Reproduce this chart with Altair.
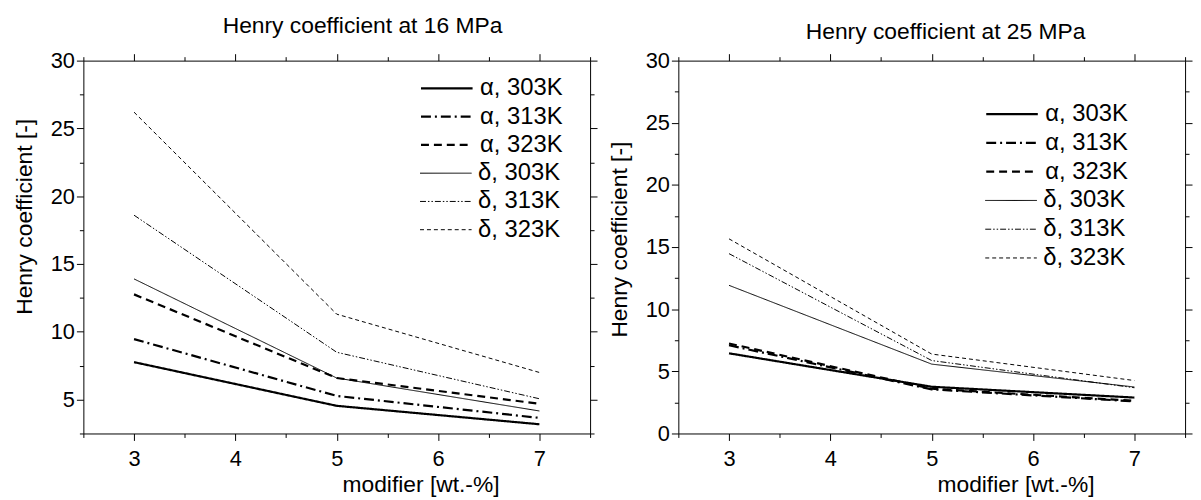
import altair as alt
import pandas as pd

FONT = "Liberation Sans"

# ---- data ----
modifier = [3, 5, 7]
series = ["α, 303K", "α, 313K", "α, 323K", "δ, 303K", "δ, 313K", "δ, 323K"]
groups = ["α", "α", "α", "δ", "δ", "δ"]

# 16 MPa
p16_a303 = [7.76, 4.54, 3.18]
p16_a313 = [9.46, 5.27, 3.65]
p16_a323 = [12.76, 6.59, 4.69]
p16_d303 = [13.9, 6.59, 4.16]
p16_d313 = [18.6, 8.49, 5.06]
p16_d323 = [26.2, 11.3, 7.0]

# 25 MPa
p25_a303 = [6.45, 3.76, 2.89]
p25_a313 = [7.10, 3.55, 2.58]
p25_a323 = [7.24, 3.60, 2.63]
p25_d303 = [11.92, 5.58, 3.74]
p25_d313 = [14.47, 5.87, 3.68]
p25_d323 = [15.66, 6.39, 4.26]

x_major = [3, 4, 5, 6, 7]
x_minor = [2.5, 3.5, 4.5, 5.5, 6.5, 7.5]
y16_major = [5, 10, 15, 20, 25, 30]
y16_minor = [2.5, 7.5, 12.5, 17.5, 22.5, 27.5]
y25_major = [0, 5, 10, 15, 20, 25, 30]
y25_minor = [2.5, 7.5, 12.5, 17.5, 22.5, 27.5]

dashes = [[1, 0], [10, 4, 2, 4], [8, 5], [1, 0], [6, 2, 1.5, 2, 1.5, 2], [4, 3]]


def build(vals):
    rows = []
    for s, g, v in zip(series, groups, vals):
        for x, y in zip(modifier, v):
            rows.append({"x": x, "v": y, "s": s, "g": g})
    return pd.DataFrame(rows)


df16 = build([p16_a303, p16_a313, p16_a323, p16_d303, p16_d313, p16_d323])
df25 = build([p25_a303, p25_a313, p25_a323, p25_d303, p25_d313, p25_d323])

axis_common = dict(
    grid=False, domainColor="black", tickColor="black", labelColor="black",
    titleColor="black", labelFont=FONT, titleFont=FONT, labelFontSize=22,
    titleFontSize=23, titleFontWeight="normal", domainWidth=1, tickWidth=1,
)

LFS = 24


def legend(lx, ly, sw, row):
    return alt.Legend(
        title=None, orient="none", legendX=lx, legendY=ly,
        symbolType="stroke", symbolSize=2704, symbolStrokeColor="black",
        symbolStrokeWidth=sw, labelFont=FONT, labelFontSize=LFS, labelColor="black",
        labelOffset=6, clipHeight=LFS, rowPadding=row - LFS, padding=0)


def panel(df, ydom, ymaj, ymin, title, tdx, tdy, lx, ly, row, ytitle_y):
    xs = alt.Scale(domain=[2.5, 7.5], nice=False, zero=False)
    ys = alt.Scale(domain=ydom, nice=False, zero=False)
    base = alt.Chart(df)

    thick = base.transform_filter(alt.datum.g == "α").mark_line(
        color="black", clip=True, strokeWidth=2.2).encode(
        x=alt.X("x:Q", scale=xs, axis=alt.Axis(
            orient="bottom", values=x_major, title="modifier [wt.-%]", tickSize=7,
            labelPadding=8, titleX=340, titleY=52, titleAlign="center",
            titleBaseline="middle", **axis_common)),
        y=alt.Y("v:Q", scale=ys, axis=alt.Axis(
            orient="left", values=ymaj, title="Henry coefficient [-]", tickSize=7,
            labelPadding=2, titleX=-59, titleY=ytitle_y, titleAngle=270,
            titleAlign="center", titleBaseline="middle", **axis_common)),
        strokeDash=alt.StrokeDash("s:N", scale=alt.Scale(domain=series[:3], range=dashes[:3]),
                                  legend=legend(lx, ly, 2.2, row)),
        detail="s:N",
    )
    thin = base.transform_filter(alt.datum.g == "δ").mark_line(
        color="black", clip=True, strokeWidth=1.0).encode(
        x=alt.X("x:Q", scale=xs, axis=None),
        y=alt.Y("v:Q", scale=ys, axis=None),
        strokeDash=alt.StrokeDash("s:N", scale=alt.Scale(domain=series[3:], range=dashes[3:]),
                                  legend=legend(lx, ly + 3 * row, 1.0, row)),
        detail="s:N",
    )

    def ghost(xorient, xvals, xtick, yorient, yvals, ytick, domain):
        return base.mark_line(strokeOpacity=0).encode(
            x=alt.X("x:Q", scale=xs, axis=alt.Axis(
                orient=xorient, values=xvals, labels=False, title=None, tickSize=xtick,
                domain=domain, **axis_common)),
            y=alt.Y("v:Q", scale=ys, axis=alt.Axis(
                orient=yorient, values=yvals, labels=False, title=None, tickSize=ytick,
                domain=domain, **axis_common)),
            detail="s:N",
        )

    g1 = ghost("bottom", x_minor, 4, "left", ymin, 4, False)
    g2 = ghost("top", x_major, 7, "right", ymaj, 7, True)
    g3 = ghost("top", x_minor, 4, "right", ymin, 4, False)

    return alt.layer(thick, thin, g1, g2, g3).resolve_axis(
        x="independent", y="independent"
    ).resolve_scale(strokeDash="independent").properties(
        width=511, height=376,
        title=alt.TitleParams(title, anchor="middle", dx=tdx, dy=tdy, offset=0,
                              baseline="alphabetic", font=FONT, fontSize=23,
                              fontWeight="normal", color="black"),
    )


left = panel(df16, [2.5, 30], y16_major, y16_minor, "Henry coefficient at 16 MPa",
             26, 6.5, 339, 16, 28.5, 157)
right = panel(df25, [0, 30], y25_major, y25_minor, "Henry coefficient at 25 MPa",
              14, 12.5, 309, 42, 29, 180)

chart = alt.hconcat(left, right, spacing=11).properties(
    padding={"left": 6, "top": 5, "right": 0, "bottom": 0},
    background="white",
).configure_view(stroke=None)

chart.save("out.html", embed_options={"renderer": "svg", "actions": False})
